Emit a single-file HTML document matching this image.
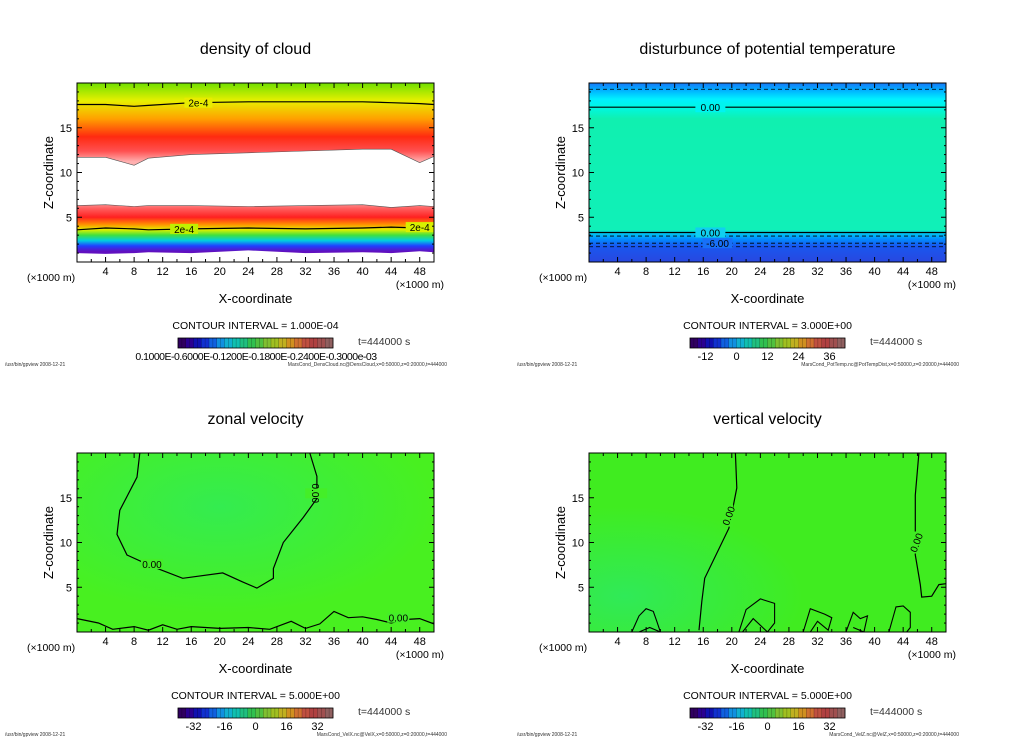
<!DOCTYPE html>
<html><head><meta charset="utf-8"><style>
html,body{margin:0;padding:0;background:#fff;}
svg{display:block;font-family:"Liberation Sans",sans-serif;}
</style></head><body>
<svg id="s" width="1024" height="740" xmlns="http://www.w3.org/2000/svg">
<defs>
<linearGradient id="gCloud" x1="0" y1="0" x2="0" y2="1">
<stop offset="0" stop-color="#70e000"/><stop offset="0.1" stop-color="#e8f000"/><stop offset="0.2" stop-color="#ffa000"/><stop offset="0.3" stop-color="#ff2a10"/><stop offset="0.38" stop-color="#ff5050"/><stop offset="0.44" stop-color="#ffb0b0"/>
<stop offset="0.66" stop-color="#ffb0b0"/><stop offset="0.7" stop-color="#ff6060"/><stop offset="0.75" stop-color="#ff2020"/><stop offset="0.79" stop-color="#ff9000"/><stop offset="0.82" stop-color="#e0f000"/><stop offset="0.85" stop-color="#40e040"/><stop offset="0.88" stop-color="#00d0e0"/><stop offset="0.91" stop-color="#2040ff"/><stop offset="0.94" stop-color="#6010c0"/><stop offset="1" stop-color="#6010c0"/>
</linearGradient>
<linearGradient id="gTemp" x1="0" y1="0" x2="0" y2="1">
<stop offset="0" stop-color="#1878f8"/><stop offset="0.04" stop-color="#00b0ff"/><stop offset="0.09" stop-color="#00f0ff"/><stop offset="0.14" stop-color="#00f8e0"/><stop offset="0.2" stop-color="#10f0b0"/><stop offset="0.82" stop-color="#10f0b8"/><stop offset="0.84" stop-color="#00c8f0"/><stop offset="0.87" stop-color="#0090ff"/><stop offset="0.91" stop-color="#1858f0"/><stop offset="1" stop-color="#2848e0"/>
</linearGradient>
<radialGradient id="gU" cx="0.4" cy="0.3" r="0.6"><stop offset="0" stop-color="#34ec50"/><stop offset="1" stop-color="#48f020"/></radialGradient>
<radialGradient id="gW" cx="0.1" cy="0.8" r="0.5"><stop offset="0" stop-color="#30ea58"/><stop offset="1" stop-color="#40ec20"/></radialGradient>
</defs>
</svg>
<script>
// ---------- data ----------
const xTicks=[4,8,12,16,20,24,28,32,36,40,44,48];
const zTicks=[5,10,15];
const cloudX=[0,4,8,10,16,24,32,40,44,48,50];
const cloudTop2e4=[17.6,17.6,17.4,17.5,17.8,17.9,17.9,17.9,17.8,17.7,17.6];
const cloudGapTop=[11.7,11.7,10.8,11.6,12.0,12.2,12.4,12.6,12.6,11.1,11.8];
const cloudGapBot=[6.3,6.4,6.2,6.3,6.3,6.2,6.3,6.4,6.1,6.3,6.2];
const cloudLow2e4=[3.6,3.8,3.7,3.6,3.7,3.8,3.7,3.8,3.9,3.8,3.9];
const cloudBase=[1.0,0.9,1.0,1.1,1.0,1.3,1.0,1.1,1.0,1.2,1.1];
const tempLevels=[19.3,17.3,3.3,2.9,2.1,1.7];
const uZeroX=[8.8,8.4,6.0,5.6,7.0,10.6,14.8,20.4,23.2,25.2,27.5,27.5,28.9,31.7,33.6,33.6,32.6];
const uZeroZ=[20,17.3,13.6,10.9,8.6,7.3,6.0,6.6,5.6,4.9,6.0,7.1,10.0,12.8,14.9,17.4,20];
const uLowX=[0,3,5,8,10,12,14,16,20,24,27,30,32,34,36,38,40,42,44,46,48,50];
const uLowZ=[1.5,1.0,0.3,0.6,0.2,0.8,0.3,0.6,0.4,0.5,0.3,1.2,0.4,0.9,2.3,1.6,1.7,1.4,1.0,1.4,1.5,0.9];
const wZero1X=[20.5,20.7,19.6,16.2,15.8,15.4];
const wZero1Z=[20,16.1,11.6,6.0,3.4,0.2];
const wZero2X=[46.2,45.7,45.7,46.4,46.6,48.0,49.0,50];
const wZero2Z=[20,15.3,8.6,5.3,3.9,4.0,5.3,5.4];
const wBlobX=[[6,7,8,9,9.5,10,8.5,7,6.5],[21,22,24,26,26,25,23,21.5],[30,31,33,34,33.5,32,31,29.5],[36,37,38,39,38.5,37],[42,43,44,45,45,44.5]];
const wBlobZ=[[0,1.8,2.6,2.3,1.2,0,0.5,0,0],[0,2.5,3.7,3.2,1.0,0,1.5,0],[0,2.6,2.0,1.6,0.2,1.2,0,0],[0,2.2,1.5,1.8,0,0.5],[0,2.8,2.9,2.2,0.5,0]];
const cbTempLabels=[-12,0,12,24,36];
const cbTempVals=[-12,0,12,24,36];
const cbVelLabels=[-32,-16,0,16,32];
const cbTempRange=[-18,42];
const cbVelRange=[-40,40];

const S=document.getElementById('s');
const NS='http://www.w3.org/2000/svg';
function el(tag,attrs,parent,text){const e=document.createElementNS(NS,tag);for(const k in attrs)e.setAttribute(k,attrs[k]);if(text!==undefined)e.textContent=text;(parent||S).appendChild(e);return e;}
const W=357,H=179;
function sx(L,v){return L+v/50*W;}
function sz(T,z){return T+H-z/20*H;}
function path(L,T,xs,zs,close){let d='';for(let i=0;i<xs.length;i++){d+=(i?'L':'M')+sx(L,xs[i]).toFixed(1)+','+sz(T,zs[i]).toFixed(1);}return d+(close?'Z':'');}

const pal=['#300060','#2a0090','#1010b0','#1030d0','#1060e0','#1090e0','#10b0d0','#10c0b0','#20c080','#30c050','#50c040','#80c030','#a0c020','#c0b020','#d09020','#d07030','#c05040','#b04040','#a05050','#906060'];
function colorbar(x,y,g){
  for(let i=0;i<40;i++){const r=el('rect',{x:x+i*155/40,y:y,width:155/40+0.3,height:10,fill:pal[Math.floor(i/2)]},g);
    
    el('line',{x1:x+i*155/40,y1:y,x2:x+i*155/40,y2:y+10,stroke:'#000','stroke-width':0.4,opacity:0.5},g);}
  el('rect',{x:x,y:y,width:155,height:10,fill:'none',stroke:'#000','stroke-width':0.8},g);
}
function panel(L,T,o){
  const g=el('g',{});
  
  const cx=L+W/2;
  const t=el('text',{x:cx,y:T-29,'font-size':16,'text-anchor':'middle'},g,o.title);
  
  const plot=el('g',{},g);
  el('clipPath',{id:'c'+o.name},g);
  el('rect',{x:L,y:T,width:W,height:H},g.lastChild);
  plot.setAttribute('clip-path','url(#c'+o.name+')');
  o.draw(plot);
  el('rect',{x:L,y:T,width:W,height:H,fill:'none',stroke:'#000','stroke-width':1},g);
  const ax=el('g',{},g);
  for(let v=2;v<50;v+=2){const big=v%4==0;const X=sx(L,v);
    el('line',{x1:X,y1:T+H,x2:X,y2:T+H-(big?5:3),stroke:'#000'},ax);el('line',{x1:X,y1:T,x2:X,y2:T+(big?5:3),stroke:'#000'},ax);}
  xTicks.forEach(v=>{const tt=el('text',{x:sx(L,v),y:T+H+13,'font-size':11,'text-anchor':'middle'},ax,v);});
  const ay=el('g',{},g);
  for(let v=1;v<20;v++){const big=v%5==0;const Y=sz(T,v);
    el('line',{x1:L,y1:Y,x2:L+(big?5:2),y2:Y,stroke:'#000'},ay);el('line',{x1:L+W,y1:Y,x2:L+W-(big?5:2),y2:Y,stroke:'#000'},ay);}
  zTicks.forEach(v=>{const tt=el('text',{x:L-5,y:sz(T,v)+4,'font-size':11,'text-anchor':'end'},ay,v);});
  let a=el('text',{x:L-50,y:T+H+19,'font-size':10.5},g,'(×1000 m)');
  a=el('text',{x:L+W+10,y:T+H+26,'font-size':10.5,'text-anchor':'end'},g,'(×1000 m)');
  a=el('text',{x:cx,y:T+H+41,'font-size':13,'text-anchor':'middle'},g,'X-coordinate');
  a=el('text',{x:0,y:0,'font-size':13,'text-anchor':'middle',transform:'translate('+(L-24)+','+(T+H/2)+') rotate(-90)'},g,'Z-coordinate');
  a=el('text',{x:cx,y:T+H+67,'font-size':10.5,'text-anchor':'middle'},g,o.interval);
  a=el('text',{x:L+281,y:T+H+83,'font-size':10.5,fill:'#333'},g,'t=444000 s');
  const cb=el('g',{},g);
  colorbar(L+101,T+H+76,cb);
  o.cbl(cb,L+101,T+H+98);
  a=el('text',{x:L-72,y:T+H+104,'font-size':5,fill:'#333'},g,'/usr/bin/gpview   2008-12-21');
  a=el('text',{x:L+W+13,y:T+H+104,'font-size':5,'text-anchor':'end',fill:'#333'},g,o.footer);
}
function lbl(g,x,y,s){const t=el('text',{x:x,y:y,'font-size':10,'text-anchor':'middle'},g,s);return t;}
function cbTicks(g,x0,y,labs,vals,rng){labs.forEach((s,i)=>{const X=x0+(vals[i]-rng[0])/(rng[1]-rng[0])*155;const t=el('text',{x:X,y:y,'font-size':11,'text-anchor':'middle'},g,s);});}

panel(77,83,{name:'density-of-cloud-panel',title:'density of cloud',interval:'CONTOUR INTERVAL = 1.000E-04',
 footer:'MarsCond_DensCloud.nc@DensCloud,x=0:50000,z=0:20000,t=444000',
 draw:function(g){const L=77,T=83;
  el('rect',{x:L,y:T,width:W,height:H,fill:'url(#gCloud)'},g);
  const gapX=cloudX.concat(cloudX.slice().reverse());const gapZ=cloudGapTop.concat(cloudGapBot.slice().reverse());
  const w=el('path',{d:path(L,T,gapX,gapZ,true),fill:'#fff',stroke:'#555','stroke-width':0.6},g);
  const bx=cloudX.concat([50,0]),bz=cloudBase.concat([0,0]);
  el('path',{d:path(L,T,bx,bz,true),fill:'#fff'},g);
  let c=el('path',{d:path(L,T,cloudX,cloudTop2e4),fill:'none',stroke:'#000','stroke-width':1.2},g);
  c=el('path',{d:path(L,T,cloudX,cloudLow2e4),fill:'none',stroke:'#000','stroke-width':1.2},g);
  [[17,17.8,'#e8ec00'],[15,3.7,'#c0f000'],[48,3.9,'#d8f000']].forEach(p=>{const X=sx(L,p[0]),Y=sz(T,p[1]);el('rect',{x:X-14,y:Y-5,width:28,height:10,fill:p[2]},g);lbl(g,X,Y+4,'2e-4');});
 },
 cbl:function(g,x,y){const t=el('text',{x:x+78,y:y,'font-size':10.5,'text-anchor':'middle','letter-spacing':'-0.5'},g,'0.1000E-0.6000E-0.1200E-0.1800E-0.2400E-0.3000e-03');}
});
panel(589,83,{name:'potential-temperature-panel',title:'disturbunce of potential temperature',interval:'CONTOUR INTERVAL = 3.000E+00',
 footer:'MarsCond_PotTemp.nc@PotTempDist,x=0:50000,z=0:20000,t=444000',
 draw:function(g){const L=589,T=83;
  el('rect',{x:L,y:T,width:W,height:H,fill:'url(#gTemp)'},g);
  tempLevels.forEach((z,i)=>{const solid=(z==17.3||z==3.3);const c=el('line',{x1:L,x2:L+W,y1:sz(T,z),y2:sz(T,z),stroke:'#000','stroke-width':solid?1.2:0.8,'stroke-dasharray':solid?'':'4,3'},g);});
  [[17.3,'0.00','#00f4f0'],[3.3,'0.00','#10d0f0'],[2.1,'-6.00','#1870f8']].forEach(p=>{const X=sx(L,p[1]=='-6.00'?18:17),Y=sz(T,p[0]);el('rect',{x:X-15,y:Y-5,width:30,height:10,fill:p[2]},g);lbl(g,X,Y+4,p[1]);});
 },
 cbl:function(g,x,y){cbTicks(g,x,y,cbTempLabels,cbTempVals,cbTempRange);}
});
panel(77,453,{name:'zonal-velocity-panel',title:'zonal velocity',interval:'CONTOUR INTERVAL = 5.000E+00',
 footer:'MarsCond_VelX.nc@VelX,x=0:50000,z=0:20000,t=444000',
 draw:function(g){const L=77,T=453;
  el('rect',{x:L,y:T,width:W,height:H,fill:'url(#gU)'},g);
  let c=el('path',{d:path(L,T,uZeroX,uZeroZ),fill:'none',stroke:'#000','stroke-width':1.2},g);
  c=el('path',{d:path(L,T,uLowX,uLowZ),fill:'none',stroke:'#000','stroke-width':1.2},g);
  [[10.5,7.6,'0.00'],[33.5,15.5,'0.00'],[45,1.6,'0.00']].forEach(p=>{const X=sx(L,p[0]),Y=sz(T,p[1]);el('rect',{x:X-11,y:Y-5,width:22,height:10,fill:'#44ee28'},g);const t=lbl(g,X,Y+4,p[2]);if(p[1]>10)t.setAttribute('transform','rotate(90 '+X+' '+Y+')');});
 },
 cbl:function(g,x,y){cbTicks(g,x,y,cbVelLabels,cbVelLabels,cbVelRange);}
});
panel(589,453,{name:'vertical-velocity-panel',title:'vertical velocity',interval:'CONTOUR INTERVAL = 5.000E+00',
 footer:'MarsCond_VelZ.nc@VelZ,x=0:50000,z=0:20000,t=444000',
 draw:function(g){const L=589,T=453;
  el('rect',{x:L,y:T,width:W,height:H,fill:'url(#gW)'},g);
  let c=el('path',{d:path(L,T,wZero1X,wZero1Z),fill:'none',stroke:'#000','stroke-width':1.2},g);
  c=el('path',{d:path(L,T,wZero2X,wZero2Z),fill:'none',stroke:'#000','stroke-width':1.2},g);
  wBlobX.forEach((xs,i)=>{const b=el('path',{d:path(L,T,xs,wBlobZ[i]),fill:'none',stroke:'#000','stroke-width':1.1},g);});
  [[19.5,13,'0.00'],[45.8,10,'0.00']].forEach(p=>{const X=sx(L,p[0]),Y=sz(T,p[1]);el('rect',{x:X-5,y:Y-11,width:10,height:22,fill:'#40ec22'},g);const t=lbl(g,X,Y+4,p[2]);t.setAttribute('transform','rotate(-70 '+X+' '+Y+')');});
 },
 cbl:function(g,x,y){cbTicks(g,x,y,cbVelLabels,cbVelLabels,cbVelRange);}
});
</script>
</body></html>
